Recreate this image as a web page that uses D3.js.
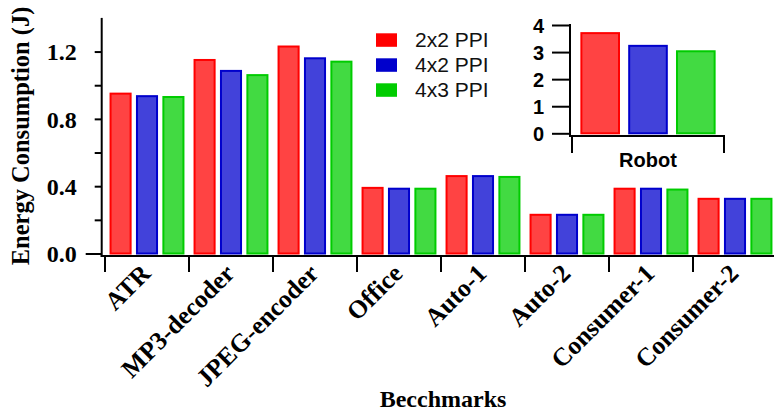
<!DOCTYPE html>
<html>
<head>
<meta charset="utf-8">
<script src="https://cdn.jsdelivr.net/npm/d3@7"></script>
<style>
  html, body { margin: 0; padding: 0; background: #fff; }
  svg { display: block; }
</style>
</head>
<body>
<svg id="chart" width="774" height="412"></svg>
<script>
// Benchmarks and energy per configuration (J)
const categories = ["ATR", "MP3-decoder", "JPEG-encoder", "Office", "Auto-1", "Auto-2", "Consumer-1", "Consumer-2"];
const seriesNames = ["2x2 PPI", "4x2 PPI", "4x3 PPI"];
const energy2x2 = [0.95, 1.15, 1.23, 0.39, 0.46, 0.23, 0.385, 0.325];
const energy4x2 = [0.935, 1.085, 1.16, 0.385, 0.46, 0.23, 0.385, 0.325];
const energy4x3 = [0.93, 1.06, 1.14, 0.385, 0.455, 0.23, 0.38, 0.325];
const yTicks = [0, 0.2, 0.4, 0.6, 0.8, 1.0, 1.2];

// Robot benchmark, drawn in its own small panel
const insetCategory = "Robot";
const insetValues = [3.70, 3.23, 3.03];
const insetTicks = [0, 1, 2, 3, 4];

const fills = ["#ff4343", "#4242da", "#42da42"];
const strokes = ["#ff0000", "#0000cc", "#00cc00"];
const series = [energy2x2, energy4x2, energy4x3];

const svg = d3.select("#chart");
const serif = "'Liberation Serif', 'Times New Roman', serif";
const sans = "'Liberation Sans', Arial, sans-serif";

// ---------- main panel ----------
const axisX = 101.7, axisY = 256;
const y = d3.scaleLinear().domain([0, 1.4]).range([253.5, 17.9]);
const x = d3.scaleBand().domain(categories).range([105, 777]).padding(0);
const xs = d3.scaleBand().domain(d3.range(3)).range([0, x.bandwidth()])
  .paddingInner(0.24).paddingOuter(0.21);

const rows = categories.map((c, i) => ({ c, vals: series.map(s => s[i]) }));

const groups = svg.append("g").selectAll("g").data(rows).join("g")
  .attr("transform", d => `translate(${x(d.c)},0)`);
groups.selectAll("rect").data(d => d.vals.map((v, k) => ({ v, k }))).join("rect")
  .attr("x", d => xs(d.k))
  .attr("width", xs.bandwidth())
  .attr("y", d => y(d.v))
  .attr("height", d => y(0) - y(d.v))
  .attr("fill", d => fills[d.k])
  .attr("stroke", d => strokes[d.k])
  .attr("stroke-width", 2);

// y axis: ticks every 0.2, labels every 0.4
const yAxis = d3.axisLeft(y).tickValues(yTicks).tickSize(7)
  .tickFormat(d => (Math.round(d * 10) % 4 === 0) ? d3.format(".1f")(d) : "");
const gy = svg.append("g").attr("transform", `translate(${axisX},0)`).call(yAxis);
gy.select(".domain").remove();
gy.selectAll(".tick line").attr("stroke", "#000").attr("stroke-width", 2);
gy.selectAll(".tick").filter(d => d === 0).select("line").attr("x2", -16);
gy.selectAll(".tick text")
  .attr("x", -25).attr("dy", "0.34em")
  .attr("font-family", serif).attr("font-weight", "bold").attr("font-size", 24).attr("fill", "#000");
svg.append("line").attr("x1", axisX).attr("x2", axisX).attr("y1", y(1.4)).attr("y2", axisY + 1)
  .attr("stroke", "#000").attr("stroke-width", 2);

// x axis: boundary ticks between groups, rotated labels
svg.append("line").attr("x1", axisX - 1).attr("x2", 774).attr("y1", axisY).attr("y2", axisY)
  .attr("stroke", "#000").attr("stroke-width", 2);
svg.append("g").selectAll("line").data(categories).join("line")
  .attr("x1", d => x(d)).attr("x2", d => x(d))
  .attr("y1", axisY).attr("y2", axisY + 16)
  .attr("stroke", "#000").attr("stroke-width", 2);
svg.append("g").selectAll("text").data(categories).join("text")
  .attr("transform", d => `translate(${x(d) + x.bandwidth() / 2 + 5},${axisY + 19}) rotate(-45)`)
  .attr("text-anchor", "end")
  .attr("font-family", serif).attr("font-weight", "bold").attr("font-size", 25.5)
  .text(d => d);

// axis titles
svg.append("text")
  .attr("transform", "translate(29,136) rotate(-90)")
  .attr("text-anchor", "middle")
  .attr("font-family", serif).attr("font-weight", "bold").attr("font-size", 24.5)
  .text("Energy Consumption (J)");
svg.append("text")
  .attr("x", 443).attr("y", 406.5)
  .attr("text-anchor", "middle")
  .attr("font-family", serif).attr("font-weight", "bold").attr("font-size", 24)
  .text("Becchmarks");

// ---------- legend ----------
const legend = svg.append("g").selectAll("g").data(seriesNames).join("g")
  .attr("transform", (d, i) => `translate(376,${33.3 + i * 25})`);
legend.append("rect").attr("width", 21).attr("height", 13.5)
  .attr("fill", (d, i) => strokes[i]);
legend.append("text").attr("x", 39).attr("y", 13.4)
  .attr("font-family", sans).attr("font-size", 21).attr("fill", "#111")
  .text(d => d);

// ---------- Robot panel ----------
const iy = d3.scaleLinear().domain([0, 4]).range([133.3, 25]);
const ix = d3.scaleBand().domain(d3.range(3)).range([572, 724])
  .paddingInner(0.213).paddingOuter(0.196);
const iAxisX = 570, iAxisY = 136;

svg.append("g").selectAll("rect").data(insetValues).join("rect")
  .attr("x", (d, i) => ix(i))
  .attr("width", ix.bandwidth())
  .attr("y", d => iy(d))
  .attr("height", d => iy(0) - iy(d))
  .attr("fill", (d, i) => fills[i])
  .attr("stroke", (d, i) => strokes[i])
  .attr("stroke-width", 2);

const iyAxis = d3.axisLeft(iy).tickValues(insetTicks).tickSize(18).tickFormat(d3.format("d"));
const giy = svg.append("g").attr("transform", `translate(${iAxisX},0)`).call(iyAxis);
giy.select(".domain").remove();
giy.selectAll(".tick line").attr("stroke", "#000").attr("stroke-width", 2);
giy.selectAll(".tick text")
  .attr("x", -26).attr("dy", "0.36em")
  .attr("font-family", sans).attr("font-weight", "bold").attr("font-size", 20).attr("fill", "#000");
svg.append("line").attr("x1", iAxisX).attr("x2", iAxisX).attr("y1", iy(4) - 1).attr("y2", iAxisY + 1)
  .attr("stroke", "#000").attr("stroke-width", 2);
svg.append("line").attr("x1", iAxisX - 1).attr("x2", 725).attr("y1", iAxisY).attr("y2", iAxisY)
  .attr("stroke", "#000").attr("stroke-width", 2);
svg.append("g").selectAll("line").data([572, 724]).join("line")
  .attr("x1", d => d).attr("x2", d => d)
  .attr("y1", iAxisY).attr("y2", iAxisY + 17)
  .attr("stroke", "#000").attr("stroke-width", 2);
svg.append("text")
  .attr("x", 648).attr("y", 167.3)
  .attr("text-anchor", "middle")
  .attr("font-family", sans).attr("font-weight", "bold").attr("font-size", 20)
  .text(insetCategory);
</script>
</body>
</html>
